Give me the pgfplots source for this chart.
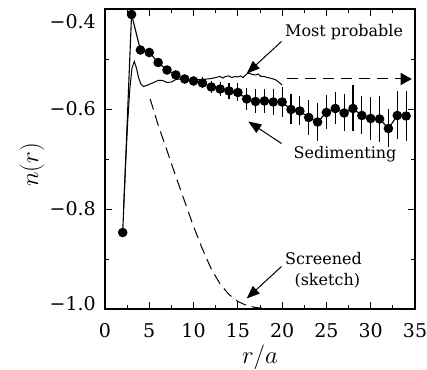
\documentclass[border=0pt]{standalone}
\usepackage{fontspec}
\setmainfont{DejaVu Serif}
\usepackage{pgfplots}
\pgfplotsset{compat=1.18}
\usepackage{pgfplotstable}
\usetikzlibrary{arrows.meta}
\pgfplotstableread{
x y e
2 -0.847 0
3 -0.411 0
4 -0.482 0
5 -0.487 0
6 -0.507 0.002
7 -0.522 0.004
8 -0.532 0.006
9 -0.540 0.008
10 -0.544 0.010
11 -0.548 0.011
12 -0.556 0.012
13 -0.560 0.014
14 -0.564 0.016
15 -0.567 0.018
16 -0.580 0.022
17 -0.585 0.024
18 -0.584 0.024
19 -0.586 0.026
20 -0.586 0.030
21 -0.601 0.030
22 -0.604 0.029
23 -0.617 0.035
24 -0.626 0.038
25 -0.607 0.034
26 -0.599 0.032
27 -0.608 0.037
28 -0.599 0.046
29 -0.613 0.038
30 -0.619 0.043
31 -0.620 0.046
32 -0.639 0.038
33 -0.613 0.048
34 -0.614 0.050
}\sed
\pgfplotstableread{
x y
2.10 -0.800
2.30 -0.720
2.55 -0.630
2.80 -0.560
3.05 -0.518
3.30 -0.505
3.55 -0.518
3.80 -0.538
4.05 -0.550
4.35 -0.555
4.70 -0.553
5.10 -0.550
5.50 -0.547
6.00 -0.543
6.50 -0.543
7.00 -0.547
7.50 -0.546
8.00 -0.541
8.50 -0.540
9.00 -0.541
9.50 -0.543
10.0 -0.543
10.5 -0.541
11.0 -0.542
11.5 -0.540
12.0 -0.539
12.5 -0.537
13.0 -0.535
13.3 -0.538
13.6 -0.535
14.0 -0.534
14.3 -0.537
14.7 -0.535
15.0 -0.536
15.3 -0.534
15.6 -0.537
16.0 -0.530
16.3 -0.528
16.6 -0.531
17.0 -0.532
17.3 -0.530
17.6 -0.535
18.0 -0.535
18.3 -0.537
18.6 -0.538
19.0 -0.540
19.3 -0.542
19.6 -0.546
20.0 -0.552
}\mostprob
\pgfplotstableread{
x y
5.1 -0.580
6.0 -0.632
7.0 -0.683
8.0 -0.735
9.0 -0.785
10.0 -0.835
11.0 -0.880
12.0 -0.920
13.0 -0.950
14.0 -0.971
15.0 -0.985
16.0 -0.993
17.0 -0.997
18.0 -0.999
19.0 -1.000
20.0 -1.000
}\screened
\begin{document}
\begin{tikzpicture}
\begin{axis}[
  name=ax, scale only axis, width=310pt, height=300pt,
  xmin=0, xmax=35, ymin=-1, ymax=-0.4,
  xtick={0,5,...,35}, minor x tick num=1,
  ytick={-1,-0.8,-0.6,-0.4}, minor y tick num=1,
  /pgf/number format/assume math mode=true,
  yticklabels={{},{−0.8},{−0.6},{}},
  tick align=inside, major tick length=7pt, minor tick length=4pt,
  axis line style={line width=1.2pt},
  tick style={black, line width=0.9pt},
  tick label style={font=\fontsize{19}{23}\selectfont},
  xticklabel style={anchor=north, inner sep=0pt, yshift=-14pt},
  yticklabel style={anchor=east, inner sep=0pt, xshift=-9pt},
  xlabel={$r/a$}, ylabel={$n(r)$},
  label style={font=\fontsize{24}{28}\selectfont},
  xlabel style={at={(axis description cs:0.5,-0.16)}, anchor=center},
  ylabel style={at={(axis description cs:-0.236,0.48)}, anchor=center},
  clip=false,
]
\addplot[black, line width=1pt] table[x=x,y=y] {\mostprob};
\addplot[black, line width=1pt, dash pattern=on 11pt off 6pt] table[x=x,y=y] {\screened};
\addplot[black, line width=1.1pt, mark=*, mark size=4.2pt, mark options={solid, fill=black},
  error bars/.cd, y dir=both, y explicit, error mark=none,
  error bar style={line width=1.2pt}] table[x=x,y=y,y error=e] {\sed};
\addplot[black, line width=1pt, dash pattern=on 11pt off 7pt,
  -{Triangle[length=11pt,width=12pt]}] coordinates {(20.5,-0.54) (34.63,-0.54)};
\draw[line width=1pt, -{Triangle[length=13pt,width=10pt]}] (axis cs:19.93,-0.465) -- (axis cs:16.0,-0.529);
\draw[line width=1pt, -{Triangle[length=13pt,width=10pt]}] (axis cs:19.93,-0.669) -- (axis cs:16.18,-0.625);
\draw[line width=1pt, -{Triangle[length=13pt,width=10pt]}] (axis cs:19.93,-0.915) -- (axis cs:16.0,-0.979);
\node[anchor=base, font=\fontsize{16}{19}\selectfont] at (axis cs:27.0,-0.455) {Most probable};
\node[anchor=base, font=\fontsize{16}{19}\selectfont] at (axis cs:27.1,-0.700) {Sedimenting};
\node[anchor=base, font=\fontsize{16}{19}\selectfont] at (axis cs:24.67,-0.911) {Screened};
\node[anchor=base, font=\fontsize{16}{19}\selectfont] at (axis cs:25.1,-0.952) {(sketch)};
\node[anchor=east, inner sep=0pt, font=\fontsize{19}{23}\selectfont, xshift=-9pt, yshift=-12.5pt] at (axis cs:0,-0.4) {−0.4};
\node[anchor=east, inner sep=0pt, font=\fontsize{19}{23}\selectfont, xshift=-9pt, yshift=5pt] at (axis cs:0,-1.0) {−1.0};
\end{axis}
\pgfresetboundingbox
\path[use as bounding box] ([xshift=-105pt,yshift=-60pt]ax.south west) rectangle ([xshift=12pt,yshift=9pt]ax.north east);
\end{tikzpicture}
\end{document}
